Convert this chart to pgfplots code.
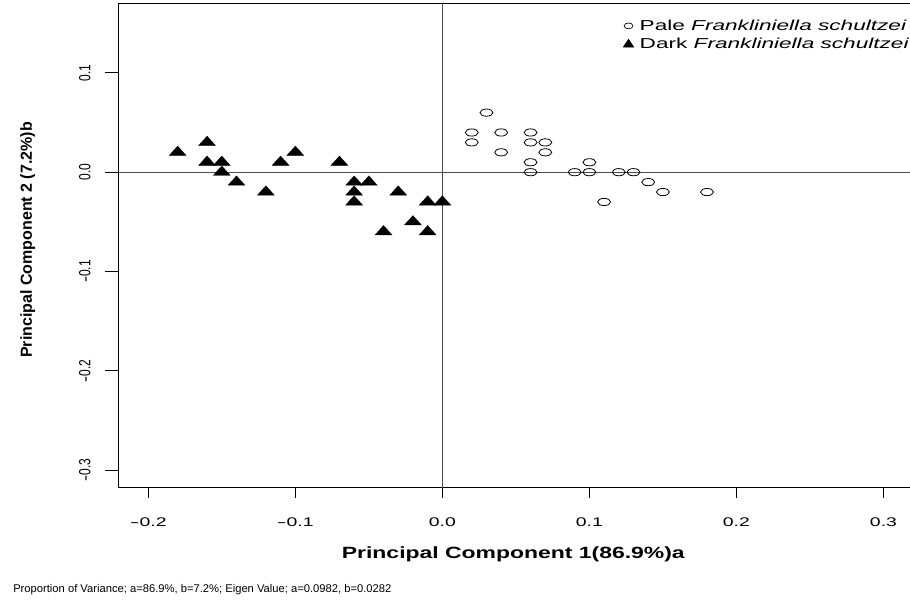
\documentclass[border=0pt]{standalone}
\usepackage{graphicx}
\usepackage{pgfplots}
\pgfplotsset{compat=1.18}
\usepackage{fontspec}
\setmainfont{Liberation Sans}
\newcommand{\hs}[2]{\scalebox{#1}[1]{#2}}
\newcommand{\vs}[2]{\scalebox{1}[#1]{#2}}
\newcommand{\mn}{\hs{1.5}{-}}
\begin{document}
\begin{tikzpicture}
\path[use as bounding box] (0,0) rectangle (682.5pt,455.25pt);
\begin{axis}[
  at={(88.7pt,89.5pt)}, anchor=south west,
  scale only axis, width=595.3pt, height=362.8pt,
  xmin=-0.2204, xmax=0.3194, ymin=-0.3178, ymax=0.1695,
  axis line style={black, line width=0.7pt},
  xtick={-0.2,-0.1,0,0.1,0.2,0.3},
  xticklabels={\hs{1.55}{\mn0.2},\hs{1.55}{\mn0.1},\hs{1.55}{0.0},\hs{1.55}{0.1},\hs{1.55}{0.2},\hs{1.55}{0.3}},
  ytick={-0.3,-0.2,-0.1,0,0.1},
  yticklabels={\vs{1.35}{\mn0.3},\vs{1.35}{\mn0.2},\vs{1.35}{\mn0.1},\vs{1.35}{0.0},\vs{1.35}{0.1}},
  xtick pos=lower, ytick pos=left,
  tick align=outside,
  major tick length=9.75pt,
  xtick style={/pgfplots/major tick length=7.5pt},
  tick style={black, line width=0.7pt},
  xticklabel style={font=\fontsize{9.4}{11}\selectfont, anchor=base, inner sep=0pt},
  yticklabel style={font=\fontsize{9}{11}\selectfont, rotate=90, anchor=base, inner sep=0pt},
  xticklabel shift=19.5pt,
  yticklabel shift=11.25pt,
  xlabel={\hs{1.41}{\bfseries Principal Component 1(86.9\%)a}},
  xlabel style={font=\fontsize{12.2}{14}\selectfont, at={(axis description cs:0.4977,0)}, anchor=base, yshift=-53pt, inner sep=0pt},
  ylabel={\bfseries Principal Component 2 (7.2\%)b},
  ylabel style={font=\fontsize{12}{14}\selectfont, at={(axis description cs:-0.109,0.512)}, anchor=base, inner sep=0pt},
  legend style={at={(rel axis cs:0.636,0.968)}, anchor=north west, draw=none, fill=none,
    inner sep=0pt, row sep=4.6pt, column sep=4.5pt, nodes={inner sep=0pt},
    font=\fontsize{10.8}{13}\selectfont},
  legend cell align=left,
  legend image code/.code={\draw[#1] plot coordinates {(0pt,0pt)};},
]
\addplot[black!70, line width=0.7pt, forget plot] coordinates {(0,-0.4) (0,0.3)};
\addplot[black!70, line width=0.7pt, forget plot] coordinates {(-0.3,0) (0.4,0)};

\addlegendimage{only marks, mark=o, mark size=2.2pt, mark options={xscale=1.5, line width=0.5pt, black}}
\addlegendentry{\hs{1.57}{Pale \textit{Frankliniella schultzei}}}
\addlegendimage{only marks, mark=triangle*, mark size=3.9pt, mark options={xscale=1.15, black, fill=black}}
\addlegendentry{\hs{1.57}{Dark \textit{Frankliniella schultzei}}}

% Pale
\addplot[only marks, mark=o, mark size=2.7pt, mark options={xscale=1.8, line width=0.6pt, black}, forget plot] coordinates {
(0.02,0.04) (0.02,0.03) (0.03,0.06) (0.04,0.04) (0.04,0.02)
(0.06,0.04) (0.06,0.03) (0.06,0.01) (0.06,0.00) (0.07,0.03) (0.07,0.02)
(0.09,0.00) (0.10,0.01) (0.10,0.00) (0.12,0.00) (0.13,0.00)
(0.14,-0.01) (0.15,-0.02) (0.11,-0.03) (0.18,-0.02)
};
% Dark
\addplot[only marks, mark=triangle*, mark size=4.65pt, mark options={xscale=1.56, black, fill=black, line width=0.3pt}, forget plot] coordinates {
(-0.18,0.02) (-0.16,0.03) (-0.16,0.01) (-0.15,0.01) (-0.15,0.00)
(-0.14,-0.01) (-0.12,-0.02) (-0.11,0.01) (-0.10,0.02) (-0.07,0.01)
(-0.06,-0.01) (-0.06,-0.02) (-0.06,-0.03) (-0.05,-0.01) (-0.03,-0.02)
(-0.04,-0.06) (-0.02,-0.05) (-0.01,-0.06) (-0.01,-0.03) (0.00,-0.03)
};
\end{axis}
\node[anchor=base west, inner sep=0pt, font=\fontsize{8.4}{10}\selectfont] at (9.75pt,11.25pt) {Proportion of Variance; a=86.9\%, b=7.2\%; Eigen Value; a=0.0982, b=0.0282};
\end{tikzpicture}
\end{document}
